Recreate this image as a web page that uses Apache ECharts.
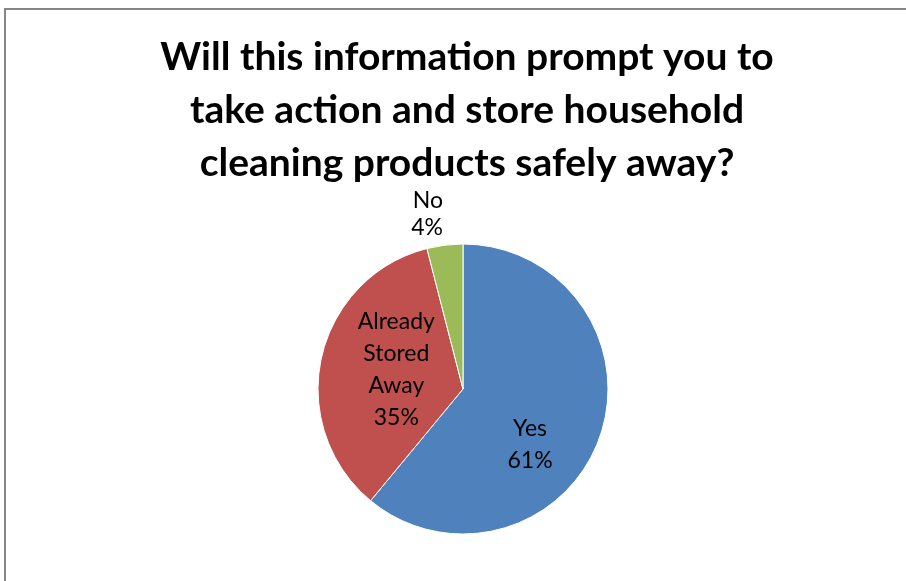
<!DOCTYPE html>
<html>
<head>
<meta charset="utf-8">
<script src="https://cdn.jsdelivr.net/npm/echarts@6/dist/echarts.min.js"></script>
<style>
  html, body { margin: 0; padding: 0; background: #fff; }
  #chart { width: 906px; height: 581px; }
</style>
</head>
<body>
<div id="chart"></div>
<script>
// data
const categories = ['Yes', 'Already\nStored\nAway', 'No'];
const values = [61, 35, 4];
const colors = ['#4F81BD', '#C0504D', '#9BBB59'];
const titleText = 'Will this information prompt you to\ntake action and store household\ncleaning products safely away?';

// label nudges so they sit where Excel put them
const labelShift = [
  { dx: -4, dy: 30 },
  { dx: 7, dy: -3 },
  { dx: 35, dy: -16 }
];

const myChart = echarts.init(document.getElementById('chart'));

const pieData = categories.map((name, i) => ({
  name: name,
  value: values[i],
  itemStyle: { color: colors[i] },
  label: i === 2 ? { position: 'outside', lineHeight: 27 } : { position: 'inside' }
}));

myChart.setOption({
  animation: false,
  title: {
    text: titleText,
    left: 462,
    top: 26,
    textAlign: 'center',
    textStyle: {
      fontFamily: 'Lato',
      fontWeight: 'bold',
      fontSize: 39,
      lineHeight: 53,
      color: '#000'
    }
  },
  graphic: [
    {
      type: 'rect',
      shape: { x: 5, y: 9, width: 1000, height: 1000 },
      style: { fill: 'none', stroke: '#868686', lineWidth: 2 },
      silent: true
    }
  ],
  series: [
    {
      type: 'pie',
      center: [463, 389],
      radius: 145,
      startAngle: 90,
      clockwise: true,
      data: pieData,
      itemStyle: { borderColor: '#fff', borderWidth: 1 },
      label: {
        show: true,
        formatter: p => p.name + '\n' + p.value + '%',
        fontFamily: 'Lato',
        fontSize: 23,
        lineHeight: 32,
        color: '#000',
        align: 'center'
      },
      labelLine: { show: false },
      labelLayout: p => labelShift[p.dataIndex]
    }
  ]
});
</script>
</body>
</html>
